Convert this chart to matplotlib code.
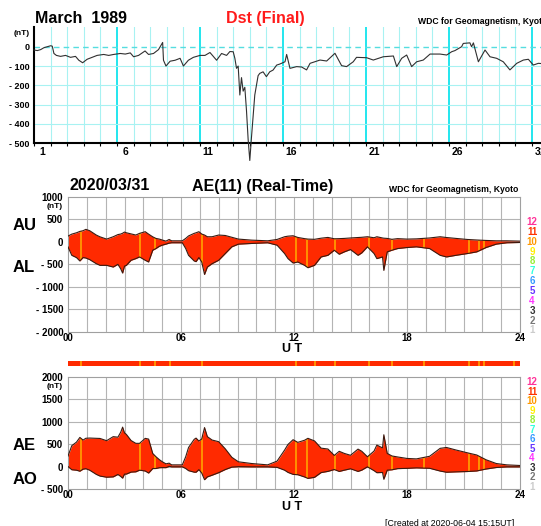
import numpy as np
import matplotlib
matplotlib.use("Agg")
import matplotlib.pyplot as plt

# ---------------- data ----------------
# Dst, March 1989 (days from start of month, nT)
dst_day = [0.0, 0.2, 0.4, 0.6, 0.8, 1.0, 1.1, 1.2, 1.35, 1.6,
           1.9, 2.2, 2.5, 2.7, 2.93, 3.2, 3.5, 3.8, 4.2, 4.5,
           4.8, 5.2, 5.5, 5.8, 6.0, 6.3, 6.69, 6.9, 7.2, 7.5,
           7.75, 7.8, 7.95, 8.2, 8.5, 8.8, 9.0, 9.3, 9.6, 10.0,
           10.3, 10.6, 11.0, 11.3, 11.6, 11.8, 12.0, 12.1, 12.2, 12.3,
           12.4, 12.5, 12.6, 12.7, 12.8, 12.9, 13.0, 13.1, 13.2, 13.3,
           13.42, 13.5, 13.6, 13.8, 14.0, 14.2, 14.4, 14.62, 14.8, 15.12,
           15.22, 15.42, 15.82, 16.12, 16.42, 16.63, 17.23, 17.63, 18.13, 18.53,
           18.83, 19.23, 19.43, 20.04, 20.44, 21.04, 21.65, 21.85, 22.15, 22.45,
           22.75, 23.05, 23.45, 23.86, 24.46, 24.86, 25.16, 25.36, 25.76, 25.86,
           26.26, 26.36, 26.47, 26.77, 27.17, 27.47, 27.87, 28.27, 28.67, 29.08,
           29.48, 29.78, 30.08, 30.38, 30.7, 31.0]
dst_nt = [-17, -20, -15, -5, 0, 5, 3, -35, -45, -50,
          -45, -55, -50, -70, -83, -65, -55, -45, -40, -45,
          -40, -35, -38, -32, -52, -45, -22, -40, -35, -15,
          22, -70, -100, -75, -70, -60, -100, -70, -55, -45,
          -45, -30, -70, -35, -45, -25, -26, -60, -112, -100,
          -250, -160, -230, -210, -330, -480, -589, -470, -360, -250,
          -190, -150, -138, -130, -155, -130, -121, -95, -90, -78,
          -40, -112, -103, -105, -120, -86, -69, -74, -34, -98,
          -103, -78, -55, -57, -69, -52, -48, -103, -60, -43,
          -103, -78, -69, -38, -38, -43, -26, -20, 0, 17,
          20, 0, 20, -78, -17, -52, -60, -78, -120, -86,
          -69, -65, -95, -86, -88, -80]
dst_day_labels = ["1", "6", "11", "16", "21", "26", "31"]

# AE(11) real-time, 2020/03/31 (UT hours, nT)
ae_hour = [0.0, 0.2, 0.45, 0.63, 0.8, 0.95, 1.15, 1.5, 1.7, 2.05,
           2.4, 2.65, 2.8, 2.9, 3.0, 3.1, 3.35, 3.6, 3.8, 4.1,
           4.28, 4.5, 4.67, 4.85, 5.0, 5.2, 5.37, 5.5, 6.07, 6.25,
           6.4, 6.7, 6.8, 6.95, 7.1, 7.25, 7.4, 7.65, 8.0, 8.35,
           8.7, 9.05, 9.75, 10.6, 11.1, 11.5, 11.68, 11.95, 12.2, 12.56,
           12.74, 13.09, 13.44, 13.8, 14.14, 14.4, 14.67, 15.0, 15.4, 15.6,
           15.9, 16.25, 16.4, 16.7, 16.77, 16.95, 17.2, 17.5, 18.0, 18.5,
           19.2, 19.76, 20.1, 20.6, 21.2, 21.7, 22.2, 22.74, 23.3, 24.0]
au_nt = [127, 170, 200, 230, 246, 276, 246, 150, 110, 60,
         112, 160, 172, 190, 216, 200, 175, 150, 187, 224,
         170, 110, 75, 60, 40, 15, 52, 22, 22, 75,
         130, 187, 200, 224, 172, 150, 112, 112, 150, 140,
         100, 60, 37, 22, 52, 112, 125, 134, 97, 70,
         60, 55, 80, 97, 67, 70, 75, 85, 95, 100,
         112, 90, 112, 85, 80, 75, 55, 70, 60, 65,
         85, 112, 95, 75, 52, 40, 30, 22, 22, 15]
al_nt = [-112, -300, -350, -425, -350, -360, -395, -485, -522, -522,
         -560, -500, -600, -694, -540, -522, -410, -373, -336, -410,
         -448, -187, -150, -100, -75, -52, -30, -22, -22, -150,
         -300, -425, -440, -350, -448, -724, -560, -485, -410, -261,
         -112, -52, -37, -22, -75, -261, -373, -470, -448, -522,
         -575, -522, -336, -300, -187, -276, -224, -172, -300, -246,
         -112, -261, -373, -336, -634, -224, -187, -150, -127, -112,
         -150, -300, -336, -300, -261, -224, -127, -52, -22, -15]
# hours where fewer stations (10) were available -> orange stripes
stripe_hours = [0.7, 3.8, 4.6, 7.1, 12.1, 12.7, 14.2, 16.0, 17.2, 18.9, 21.3, 21.8, 22.1]
bar_stripe_hours = [0.7, 3.8, 4.6, 5.4, 7.1, 12.1, 13.1, 14.2, 16.0, 17.2, 18.9,
                    21.3, 21.8, 22.1, 23.7]
hour_labels = ["00", "06", "12", "18", "24"]
station_counts = ["12", "11", "10", "9", "8", "7", "6", "5", "4", "3", "2", "1"]
station_colors = ["#ff3399", "#ff3300", "#ff9900", "#ffee00", "#99ee33", "#33ffdd",
                  "#3399ff", "#6633ff", "#ff33ff", "#333333", "#777777", "#cccccc"]

au = np.array(au_nt, float)
al = np.array(al_nt, float)
ae = au - al
ao = (au + al) / 2.0

# ---------------- figure ----------------
W, H, DPI = 541, 526, 100
plt.rcParams["font.family"] = ["Liberation Sans", "DejaVu Sans"]
fig = plt.figure(figsize=(W / DPI, H / DPI), dpi=DPI)


def fx(px):
    return px / W


def fy(py):
    return 1 - py / H


RED = "#ff2a00"
ORANGE = "#ff9900"
EDGE = "#3a1a10"
GRID = "#b4b4b4"

# ---- Dst panel ----
DAYW = 16.6
ax1 = fig.add_axes([fx(34), fy(143.3), 31 * DAYW / W, (143.3 - 27.4) / H])
ax1.set_xlim(0, 31)
ax1.set_ylim(-500, 100)
for d in range(1, 31):
    bright = d % 5 == 0
    ax1.axvline(d, color="#22e6ee" if bright else "#a8f2f2",
                lw=1.4 if bright else 0.8, zorder=1)
for v in (-100, -200, -300, -400):
    ax1.axhline(v, color="#a8f2f2", lw=0.8, zorder=1)
ax1.axhline(0, color="#55dde0", lw=1.0, ls=(0, (4, 3)), zorder=1)
ax1.plot(dst_day, dst_nt, color="#303030", lw=0.8, clip_on=False, zorder=3)
for s in ("top", "right"):
    ax1.spines[s].set_visible(False)
for s in ("left", "bottom"):
    ax1.spines[s].set_color("black")
    ax1.spines[s].set_linewidth(1.5)
ax1.set_xticks(np.arange(0.5, 31, 5))
ax1.set_xticklabels(dst_day_labels, fontsize=7.5, fontweight="bold")
ax1.set_xticks(np.arange(0, 32, 1), minor=True)
ax1.tick_params(axis="x", which="major", length=0, pad=2.5)
ax1.tick_params(axis="x", which="minor", length=2, direction="out", width=0.8)
ax1.set_yticks([0, -100, -200, -300, -400, -500])
ax1.set_yticklabels(["0", "- 100", "- 200", "- 300", "- 400", "- 500"],
                    fontsize=6.5, fontweight="bold")
ax1.tick_params(axis="y", length=0, pad=3.5)
fig.text(fx(30), fy(33.5), "(nT)", fontsize=6, fontweight="bold", ha="right", va="center")

fig.text(fx(35), fy(18.3), "March  1989", fontsize=11.5, fontweight="bold",
         ha="left", va="center")
fig.text(fx(265), fy(18.3), "Dst (Final)", fontsize=11.5, fontweight="bold",
         color="#ff1a1a", ha="center", va="center")
fig.text(fx(418), fy(21.5), "WDC for Geomagnetism, Kyoto", fontsize=6.2,
         fontweight="bold", ha="left", va="center")


# ---- AE panels ----
def style_ae_axes(ax, ylo, yhi, yticks, ylabels):
    ax.set_xlim(0, 24)
    ax.set_ylim(ylo, yhi)
    for h in range(1, 24):
        ax.axvline(h, color=GRID, lw=0.8, zorder=1)
    for v in yticks[1:-1]:
        ax.axhline(v, color=GRID, lw=0.8, zorder=1)
    for s in ax.spines.values():
        s.set_color("#a0a0a0")
        s.set_linewidth(0.8)
    ax.set_xticks([0, 6, 12, 18, 24])
    ax.set_xticklabels(hour_labels, fontsize=7, fontweight="bold")
    ax.tick_params(axis="x", length=0, pad=0.5)
    ax.set_yticks(yticks)
    ax.set_yticklabels(ylabels, fontsize=7, fontweight="bold")
    ax.tick_params(axis="y", length=0, pad=3.5)


def draw_band(ax, lower, upper, stripes):
    poly = ax.fill_between(ae_hour, lower, upper, color=RED, lw=0, zorder=2)
    vl = ax.vlines(stripes, -3000, 3000, color=ORANGE, lw=1.3, zorder=3)
    vl.set_clip_path(poly.get_paths()[0], transform=ax.transData)
    ax.plot(ae_hour, upper, color=EDGE, lw=0.8, zorder=4)
    ax.plot(ae_hour, lower, color=EDGE, lw=0.8, zorder=4)


ax2 = fig.add_axes([fx(68), fy(332), 452 / W, (332 - 196.7) / H])
style_ae_axes(ax2, -2000, 1000, [1000, 500, 0, -500, -1000, -1500, -2000],
              ["1000", "500", "0", "- 500", "- 1000", "- 1500", "- 2000"])
draw_band(ax2, al, au, stripe_hours)

ax3 = fig.add_axes([fx(68), fy(489.3), 452 / W, (489.3 - 377) / H])
style_ae_axes(ax3, -500, 2000, [2000, 1500, 1000, 500, 0, -500],
              ["2000", "1500", "1000", "500", "0", "- 500"])
draw_band(ax3, ao, ae, stripe_hours)

axb = fig.add_axes([fx(68), fy(366), 452 / W, 5 / H])
axb.set_xlim(0, 24)
axb.set_ylim(0, 1)
axb.axvspan(0, 24, color=RED, lw=0)
axb.vlines(bar_stripe_hours, 0, 1, color=ORANGE, lw=1.3)
axb.axis("off")

fig.text(fx(63), fy(206), "(nT)", fontsize=6, fontweight="bold", ha="right", va="center")
fig.text(fx(63), fy(386.5), "(nT)", fontsize=6, fontweight="bold", ha="right", va="center")

fig.text(fx(70), fy(186), "2020/03/31", fontsize=11.5, fontweight="bold",
         ha="left", va="center")
fig.text(fx(192), fy(186), "AE(11) (Real-Time)", fontsize=11.5, fontweight="bold",
         ha="left", va="center")
fig.text(fx(518), fy(189), "WDC for Geomagnetism, Kyoto", fontsize=6.2,
         fontweight="bold", ha="right", va="center")

for lab, yy in (("AU", 226), ("AL", 267.7), ("AE", 445.7), ("AO", 479)):
    fig.text(fx(13), fy(yy), lab, fontsize=12, fontweight="bold", ha="left", va="center")

fig.text(fx(292), fy(348.5), "U T", fontsize=9, fontweight="bold", ha="center", va="center")
fig.text(fx(292), fy(507), "U T", fontsize=9, fontweight="bold", ha="center", va="center")

for i, (lab, col) in enumerate(zip(station_counts, station_colors)):
    fig.text(fx(532), fy(222 + i * 9.85), lab, fontsize=7, fontweight="bold",
             color=col, ha="center", va="center")
    fig.text(fx(532), fy(382 + i * 9.55), lab, fontsize=7, fontweight="bold",
             color=col, ha="center", va="center")

fig.text(fx(385), fy(523), "[Created at 2020-06-04 15:15UT]", fontsize=6.3,
         ha="left", va="center")

fig.savefig("out.png", dpi=DPI)
